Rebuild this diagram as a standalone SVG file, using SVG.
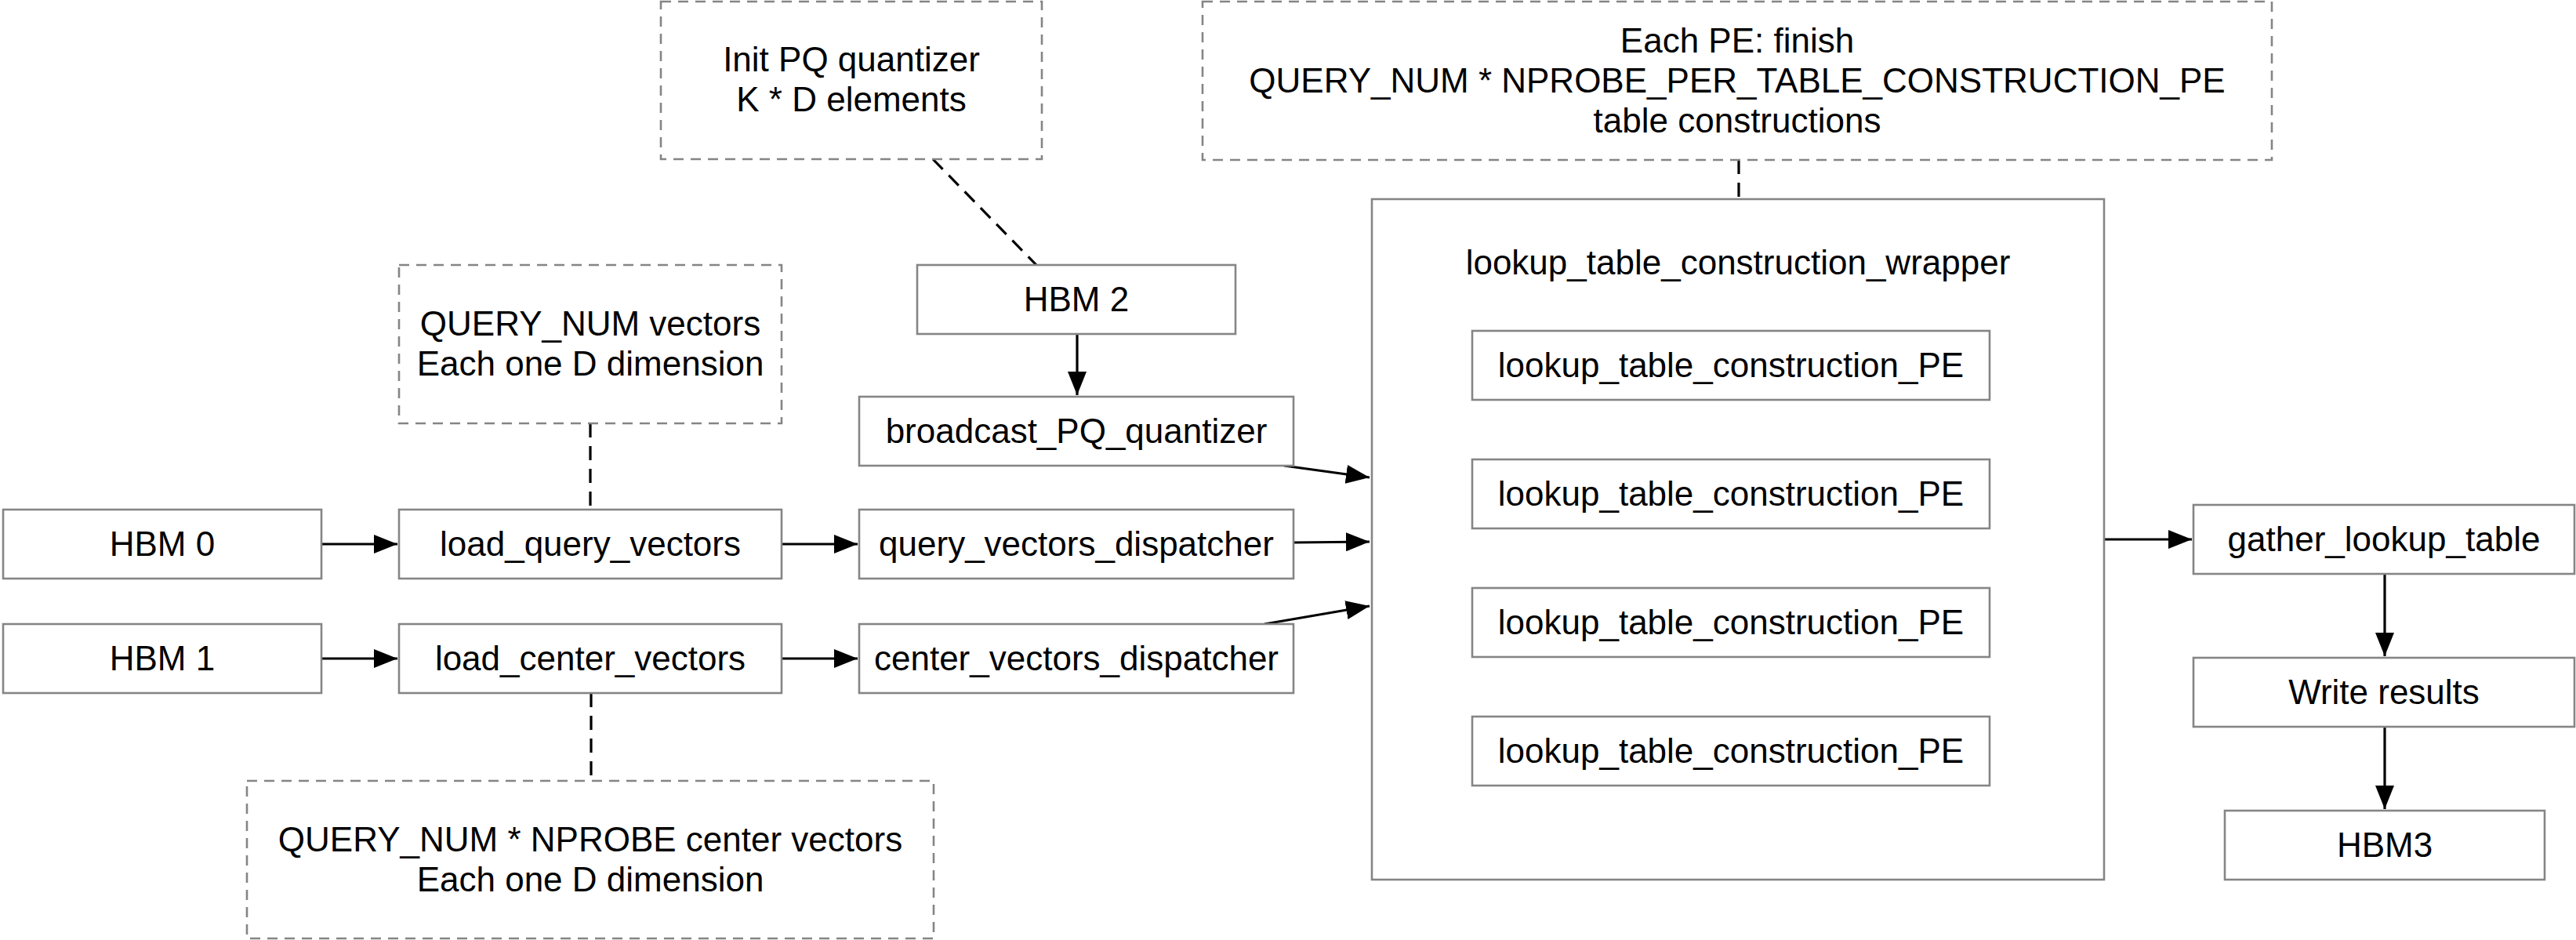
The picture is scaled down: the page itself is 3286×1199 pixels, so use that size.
<svg xmlns="http://www.w3.org/2000/svg" width="3286" height="1199" viewBox="0 0 3286 1199">
<defs>
<style>
.box{fill:#ffffff;stroke:#858585;stroke-width:2.6}
.note{fill:#ffffff;stroke:#858585;stroke-width:2.6;stroke-dasharray:13 9}
.t{font-family:"Liberation Sans",Helvetica,Arial,sans-serif;font-size:44px;fill:#000000;text-anchor:middle}
.edge{fill:none;stroke:#000000;stroke-width:3.2}
.dash{fill:none;stroke:#000000;stroke-width:3.2;stroke-dasharray:18 11}
</style>
<marker id="arr" markerUnits="userSpaceOnUse" markerWidth="30" markerHeight="24" refX="30" refY="12" orient="auto">
<path d="M0,0 L30,12 L0,24 Z" fill="#000000"/>
</marker>
</defs>
<rect width="3286" height="1199" fill="#ffffff"/>

<g id="connectors">
<path class="edge" d="M410,694 L507,694" marker-end="url(#arr)"/>
<path class="edge" d="M410,840 L507,840" marker-end="url(#arr)"/>
<path class="edge" d="M997,694 L1094,694" marker-end="url(#arr)"/>
<path class="edge" d="M997,840 L1094,840" marker-end="url(#arr)"/>
<path class="edge" d="M1374,426 L1374,504" marker-end="url(#arr)"/>
<path class="edge" d="M1638,594 L1747,609" marker-end="url(#arr)"/>
<path class="edge" d="M1650,692 L1747,691" marker-end="url(#arr)"/>
<path class="edge" d="M1613,796 L1747,773" marker-end="url(#arr)"/>
<path class="edge" d="M2684,688 L2796,688" marker-end="url(#arr)"/>
<path class="edge" d="M3042,732 L3042,837" marker-end="url(#arr)"/>
<path class="edge" d="M3042,927 L3042,1032" marker-end="url(#arr)"/>
<path class="dash" d="M753,540 L753,650"/>
<path class="dash" d="M754,884 L754,996"/>
<path class="dash" d="M1190,203 L1322,338"/>
<path class="dash" d="M2218,204 L2218,254"/>
</g>

<g id="note-query">
<rect class="note" x="509" y="338" width="488" height="202"/>
<text class="t" x="753" y="428">QUERY_NUM vectors</text>
<text class="t" x="753" y="479">Each one D dimension</text>
</g>
<g id="note-center">
<rect class="note" x="315" y="996" width="876" height="201"/>
<text class="t" x="753" y="1086">QUERY_NUM * NPROBE center vectors</text>
<text class="t" x="753" y="1137">Each one D dimension</text>
</g>
<g id="note-pq">
<rect class="note" x="843" y="2" width="486" height="201"/>
<text class="t" x="1086" y="91">Init PQ quantizer</text>
<text class="t" x="1086" y="142">K * D elements</text>
</g>
<g id="note-pe">
<rect class="note" x="1534" y="2" width="1364" height="202"/>
<text class="t" x="2216" y="67">Each PE: finish</text>
<text class="t" x="2216" y="118">QUERY_NUM * NPROBE_PER_TABLE_CONSTRUCTION_PE</text>
<text class="t" x="2216" y="169">table constructions</text>
</g>

<g id="hbm0">
<rect class="box" x="4" y="650" width="406" height="88"/>
<text class="t" x="207" y="709">HBM 0</text>
</g>
<g id="hbm1">
<rect class="box" x="4" y="796" width="406" height="88"/>
<text class="t" x="207" y="855">HBM 1</text>
</g>
<g id="load_query_vectors">
<rect class="box" x="509" y="650" width="488" height="88"/>
<text class="t" x="753" y="709">load_query_vectors</text>
</g>
<g id="load_center_vectors">
<rect class="box" x="509" y="796" width="488" height="88"/>
<text class="t" x="753" y="855">load_center_vectors</text>
</g>
<g id="hbm2">
<rect class="box" x="1170" y="338" width="406" height="88"/>
<text class="t" x="1373" y="397">HBM 2</text>
</g>
<g id="broadcast_PQ_quantizer">
<rect class="box" x="1096" y="506" width="554" height="88"/>
<text class="t" x="1373" y="565">broadcast_PQ_quantizer</text>
</g>
<g id="query_vectors_dispatcher">
<rect class="box" x="1096" y="650" width="554" height="88"/>
<text class="t" x="1373" y="709">query_vectors_dispatcher</text>
</g>
<g id="center_vectors_dispatcher">
<rect class="box" x="1096" y="796" width="554" height="88"/>
<text class="t" x="1373" y="855">center_vectors_dispatcher</text>
</g>
<g id="wrapper">
<rect class="box" x="1750" y="254" width="934" height="868"/>
<text class="t" x="2217" y="350">lookup_table_construction_wrapper</text>
</g>
<g id="pe1">
<rect class="box" x="1878" y="422" width="660" height="88"/>
<text class="t" x="2208" y="481">lookup_table_construction_PE</text>
</g>
<g id="pe2">
<rect class="box" x="1878" y="586" width="660" height="88"/>
<text class="t" x="2208" y="645">lookup_table_construction_PE</text>
</g>
<g id="pe3">
<rect class="box" x="1878" y="750" width="660" height="88"/>
<text class="t" x="2208" y="809">lookup_table_construction_PE</text>
</g>
<g id="pe4">
<rect class="box" x="1878" y="914" width="660" height="88"/>
<text class="t" x="2208" y="973">lookup_table_construction_PE</text>
</g>
<g id="gather_lookup_table">
<rect class="box" x="2798" y="644" width="486" height="88"/>
<text class="t" x="3041" y="703">gather_lookup_table</text>
</g>
<g id="write_results">
<rect class="box" x="2798" y="839" width="486" height="88"/>
<text class="t" x="3041" y="898">Write results</text>
</g>
<g id="hbm3">
<rect class="box" x="2838" y="1034" width="408" height="88"/>
<text class="t" x="3042" y="1093">HBM3</text>
</g>
</svg>
